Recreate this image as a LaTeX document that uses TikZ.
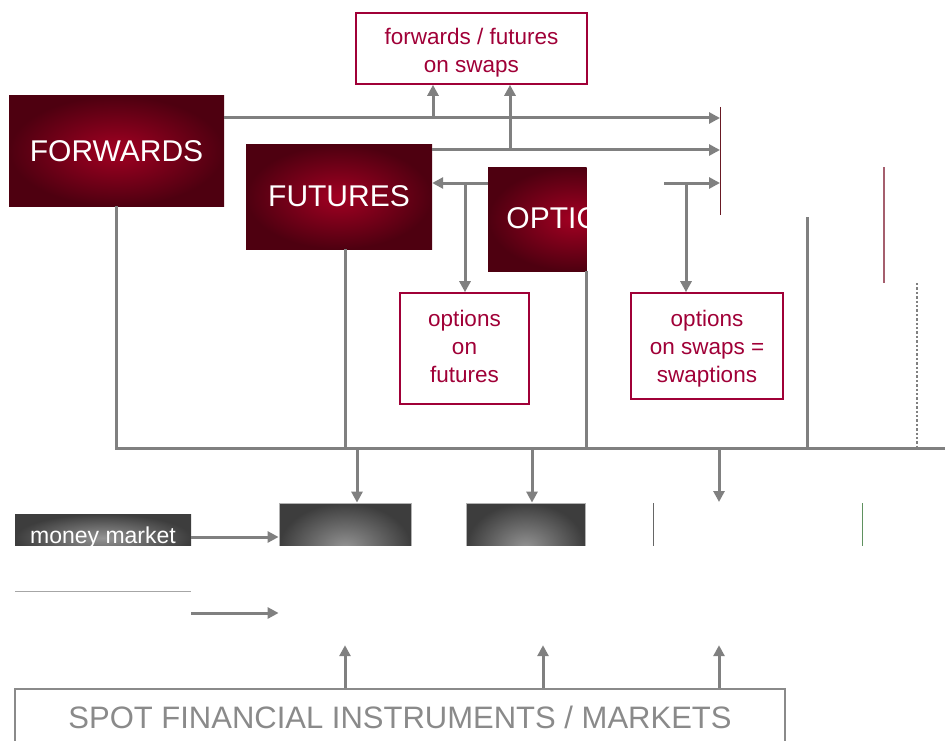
\documentclass[tikz,border=0pt]{standalone}
\usepackage{fontspec}
\setmainfont{Liberation Sans}
\usetikzlibrary{arrows.meta}
\definecolor{crim}{RGB}{160,0,55}
\definecolor{boxred}{RGB}{162,0,34}
\definecolor{boxdark}{RGB}{78,0,16}
\definecolor{linegrey}{RGB}{128,128,128}
\definecolor{spotgrey}{RGB}{138,138,138}
\definecolor{roseline}{RGB}{165,95,110}
\definecolor{darkredline}{RGB}{105,25,35}
\definecolor{greenline}{RGB}{95,145,95}
\newcommand\boxlines[2]{\raisebox{#1}[\height][\depth]{\begin{tabular}{@{}c@{}}#2\end{tabular}}}

\begin{document}
\begin{tikzpicture}[x=1pt, y=-1pt,
	link/.style={draw=linegrey, line width=3pt},
	arrowlink/.style={link, -{Triangle[length=11pt,width=11pt]}},
	redbox/.style={shading=radial, inner color=boxred, outer color=boxdark, text=white, inner sep=0pt, font=\fontsize{30}{36}\selectfont},
	greybox/.style={shading=radial, inner color=black!42, outer color=black!76, inner sep=0pt},
	outbox/.style={draw=crim, line width=1.6pt, text=crim, inner sep=0pt, font=\fontsize{22.5}{28}\selectfont}]
			%%%%% START %%%%%
			
			\useasboundingbox (0,0) rectangle (945,741);
			
			\node[redbox, minimum width=215pt, minimum height=110pt] (fwd) at (116.5,151) {FORWARDS};
			\node[redbox, minimum width=186pt, minimum height=104pt] (fut) at (339,197) {\boxlines{-2.5pt}{FUTURES}};
			\begin{scope}
				\clip (480,160) rectangle (586.5,280);
				\node[redbox, minimum width=172pt, minimum height=104pt] (opt) at (574,219) {\boxlines{-2.5pt}{OPTIONS}};
			\end{scope}
			
			\node[outbox, minimum width=231pt, minimum height=71pt] (fwdswap) at (471.5,48.5) {\boxlines{-4.5pt}{forwards / futures\\on swaps}};
			\node[outbox, minimum width=129pt, minimum height=111pt] (optfut) at (464.5,348.5) {\boxlines{0pt}{options\\on\\futures}};
			\node[outbox, minimum width=152pt, minimum height=106pt] (swaption) at (707,346) {\boxlines{-3pt}{options\\on swaps =\\swaptions}};
			
			\coordinate (endA) at (720,118);
			\coordinate (endB) at (720,150);
			\coordinate (endC) at (720,183);
			\coordinate (splitC) at (465,183);
			\coordinate (startD) at (664,183);
			\coordinate (splitD) at (686,183);
			
			\draw[arrowlink] (fwd.east |- endA) -- (endA);
			\draw[arrowlink] ([xshift=-38.5pt]fwdswap.south |- endA) -- ([xshift=-38.5pt]fwdswap.south);
			\draw[arrowlink] (fut.east |- endB) -- (endB);
			\draw[arrowlink] ([xshift=38.5pt]fwdswap.south |- endB) -- ([xshift=38.5pt]fwdswap.south);
			\draw[arrowlink] (opt.west |- splitC) -- (fut.east |- splitC);
			\draw[arrowlink] (splitC) -- (splitC |- optfut.north);
			\draw[arrowlink] (startD) -- (endC);
			\draw[arrowlink] (splitD) -- (splitD |- swaption.north);
			
			\draw[draw=darkredline, line width=0.9pt] (720,107) -- (720,215);
			\draw[draw=roseline, line width=1.2pt] (884,167) -- (884,283);
			
			\coordinate (busR) at (945,448);
			\draw[link] (fwd.south) |- (busR);
			\draw[link] ([xshift=6pt]fut.south) -- ([xshift=6pt]fut.south |- busR);
			\draw[link] ([xshift=12.5pt]opt.south) -- ([xshift=12.5pt]opt.south |- busR);
			\draw[link] (807,217) -- (807,448);
			\draw[draw=linegrey, line width=2.4pt, dotted] (917,283) -- (917,448);
			
			\begin{scope}
				\clip (0,480) rectangle (945,545);
				\node[greybox, minimum width=176pt, minimum height=48pt, text=white, font=\fontsize{23}{27}\selectfont] (money) at (103,538) {money market};
				\node[greybox, draw=black!30, line width=0.8pt, minimum width=132pt, minimum height=90pt] (mkt1) at (345,548) {};
				\node[greybox, draw=black!30, line width=0.8pt, minimum width=119pt, minimum height=90pt] (mkt2) at (525.5,548) {};
				\draw[draw=black!60, line width=0.8pt] (653,503) -- (653,560);
				\draw[draw=greenline, line width=0.8pt] (862,503) -- (862,560);
			\end{scope}
			\coordinate (mkt3) at (719,502);
			
			\draw[arrowlink] ([xshift=12pt]mkt1.north |- busR) -- ([xshift=12pt]mkt1.north);
			\draw[arrowlink] ([xshift=6.5pt]mkt2.north |- busR) -- ([xshift=6.5pt]mkt2.north);
			\draw[arrowlink] (mkt3 |- busR) -- (mkt3);
			
			\draw[arrowlink] (money.east |- 0,537) -- (mkt1.west |- 0,537);
			\draw[draw=black!35, line width=1pt] (15,591) -- (191,591);
			\coordinate (lowA) at (191,613);
			\draw[arrowlink] (lowA) -- (lowA -| mkt1.west);
			
			\node[draw=spotgrey, line width=1.6pt, text=spotgrey, minimum width=770pt, minimum height=62pt, inner sep=0pt, font=\fontsize{31}{37}\selectfont] (spot) at (400,720) {\raisebox{2.5pt}[\height][\depth]{SPOT FINANCIAL INSTRUMENTS / MARKETS}};
			
			\draw[arrowlink] ([xshift=-55pt]spot.north) -- ++(0,-43);
			\draw[arrowlink] ([xshift=143pt]spot.north) -- ++(0,-43);
			\draw[arrowlink] ([xshift=319pt]spot.north) -- ++(0,-43);
			
			%%%%% END %%%%%
		\end{tikzpicture}
\end{document}
